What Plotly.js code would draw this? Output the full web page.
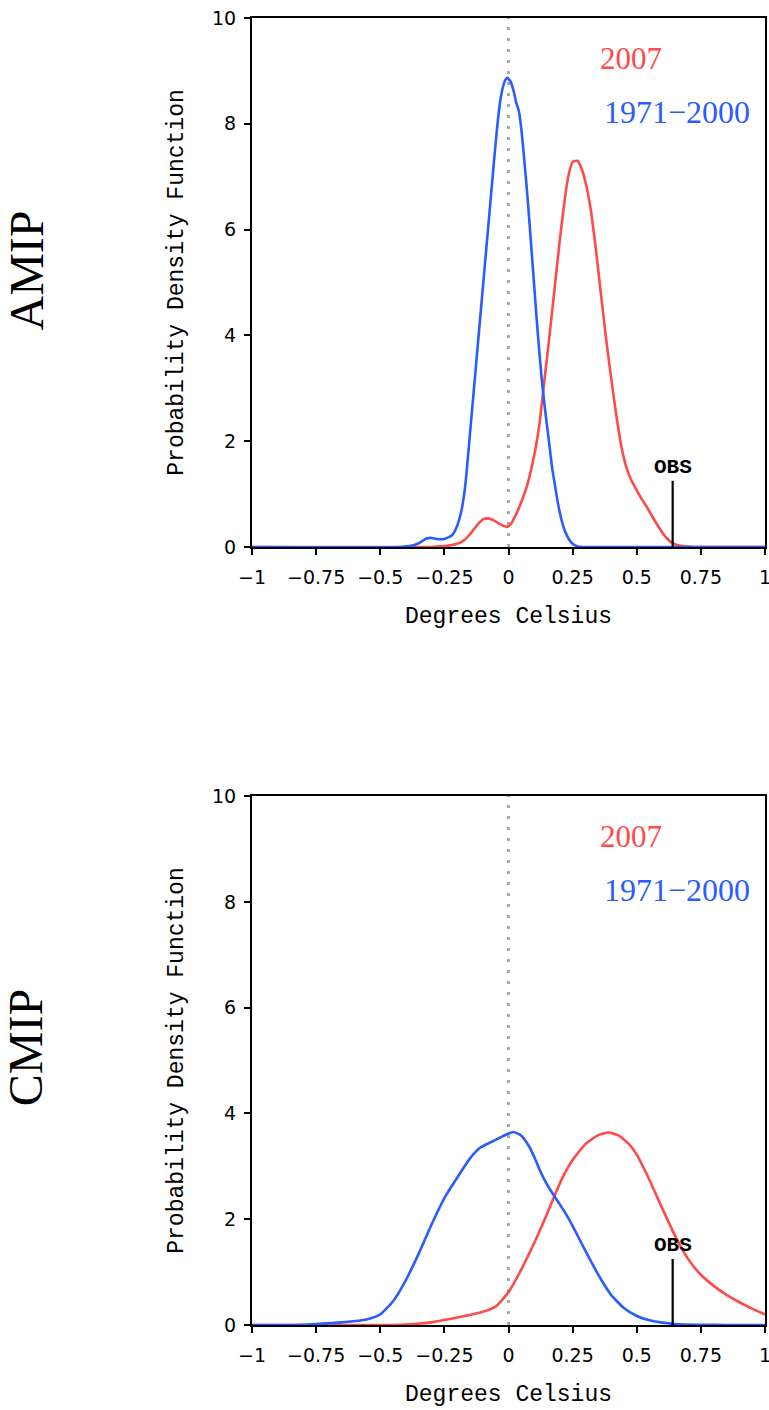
<!DOCTYPE html>
<html>
<head>
<meta charset="utf-8">
<script src="https://cdn.plot.ly/plotly-3.0.1.min.js"></script>
<style>
  html, body { margin: 0; padding: 0; background: #ffffff; }
  #chart { width: 769px; height: 1410px; }
</style>
</head>
<body>
<div id="chart"></div>
<script>
// ---------- data ----------
const panelLabels = ['AMIP', 'CMIP'];
const seriesNames = ['2007', '1971\u22122000'];
const obsValue = 0.64;
const obsMarkerHeight = 1.25;

// AMIP, 1971-2000
const amipBaseX = [-1, -0.42, -0.38, -0.35, -0.32, -0.3, -0.28, -0.25, -0.22, -0.2, -0.185, -0.17, -0.16, -0.14, -0.12, -0.1, -0.08, -0.06, -0.045, -0.03, -0.015, -0.005, 0.008, 0.02, 0.03, 0.04, 0.05, 0.06, 0.07, 0.08, 0.09, 0.1, 0.11, 0.12, 0.13, 0.14, 0.15, 0.16, 0.17, 0.18, 0.19, 0.2, 0.21, 0.22, 0.235, 0.25, 0.27, 0.29, 1];
const amipBaseY = [0, 0, 0.02, 0.07, 0.16, 0.17, 0.15, 0.15, 0.22, 0.4, 0.65, 1.1, 1.6, 2.7, 3.8, 4.9, 6.0, 7.1, 7.9, 8.5, 8.8, 8.87, 8.8, 8.62, 8.4, 8.25, 7.9, 7.4, 6.85, 6.25, 5.6, 4.95, 4.3, 3.7, 3.15, 2.7, 2.3, 1.9, 1.5, 1.2, 0.9, 0.65, 0.45, 0.3, 0.15, 0.06, 0.01, 0, 0];

// AMIP, 2007
const amip2007X = [-1, -0.3, -0.24, -0.2, -0.175, -0.15, -0.125, -0.1, -0.08, -0.06, -0.04, -0.02, -0.005, 0.01, 0.03, 0.05, 0.07, 0.09, 0.105, 0.12, 0.14, 0.16, 0.18, 0.2, 0.22, 0.235, 0.25, 0.27, 0.285, 0.3, 0.32, 0.34, 0.36, 0.38, 0.4, 0.42, 0.44, 0.46, 0.48, 0.5, 0.52, 0.54, 0.56, 0.58, 0.6, 0.62, 0.64, 0.67, 0.72, 1];
const amip2007Y = [0, 0, 0.02, 0.06, 0.12, 0.24, 0.4, 0.52, 0.54, 0.51, 0.45, 0.4, 0.38, 0.44, 0.62, 0.85, 1.12, 1.5, 1.85, 2.3, 3.15, 4.0, 4.9, 5.8, 6.6, 7.05, 7.28, 7.3, 7.15, 6.9, 6.4, 5.65, 4.8, 3.95, 3.2, 2.5, 1.9, 1.5, 1.25, 1.07, 0.9, 0.75, 0.58, 0.42, 0.27, 0.15, 0.07, 0.02, 0, 0];

// CMIP, 1971-2000
const cmipBaseX = [-1, -0.85, -0.75, -0.65, -0.55, -0.5, -0.45, -0.4, -0.35, -0.3, -0.25, -0.206, -0.15, -0.111, -0.05, 0, 0.02, 0.05, 0.08, 0.1, 0.12, 0.143, 0.17, 0.2, 0.23, 0.26, 0.3, 0.35, 0.4, 0.45, 0.5, 0.55, 0.6, 0.65, 0.75, 0.85, 1];
const cmipBaseY = [0, 0, 0.02, 0.05, 0.11, 0.2, 0.45, 0.85, 1.35, 1.9, 2.4, 2.74, 3.15, 3.35, 3.5, 3.62, 3.65, 3.58, 3.38, 3.18, 2.95, 2.72, 2.5, 2.28, 2.05, 1.78, 1.4, 0.95, 0.57, 0.32, 0.17, 0.09, 0.045, 0.02, 0.005, 0, 0];

// CMIP, 2007
const cmip2007X = [-1, -0.5, -0.4, -0.3, -0.2, -0.1, -0.05, 0, 0.05, 0.1, 0.15, 0.18, 0.21, 0.25, 0.3, 0.35, 0.39, 0.43, 0.47, 0.5, 0.546, 0.6, 0.65, 0.7, 0.75, 0.8, 0.85, 0.9, 0.95, 1];
const cmip2007Y = [0, 0, 0.01, 0.05, 0.14, 0.25, 0.35, 0.62, 1.05, 1.55, 2.1, 2.45, 2.78, 3.12, 3.42, 3.59, 3.64, 3.58, 3.42, 3.22, 2.78, 2.2, 1.68, 1.25, 0.95, 0.74, 0.57, 0.43, 0.31, 0.2];

// axes
const xTickVals = [-1, -0.75, -0.5, -0.25, 0, 0.25, 0.5, 0.75, 1];
const xTickText = ['\u22121', '\u22120.75', '\u22120.5', '\u22120.25', '0', '0.25', '0.5', '0.75', '1'];
const yTickVals = [0, 2, 4, 6, 8, 10];
const yTickText = ['0', '2', '4', '6', '8', '10'];
const xRange = [-1, 1];
const yRange = [0, 10];
const xTitle = 'Degrees Celsius';
const yTitle = 'Probability Density Function';

// ---------- styling ----------
const RED = '#ff4a4a';
const BLUE = '#2b5cff';
const tickFont = { family: 'DejaVu Sans, Liberation Sans, sans-serif', size: 19, color: '#000' };
const titleFont = { family: 'Liberation Mono, DejaVu Sans Mono, monospace', size: 23, color: '#000' };
const legendFont = 'Liberation Serif, DejaVu Serif, serif';

function curve(x, y, color, xa, ya, name) {
  return {
    x: x, y: y, xaxis: xa, yaxis: ya, name: name,
    type: 'scatter', mode: 'lines',
    line: { color: color, width: 2.6, shape: 'spline', smoothing: 0.5 },
    hoverinfo: 'skip', showlegend: false
  };
}

const data = [
  curve(amip2007X, amip2007Y, RED, 'x', 'y', seriesNames[0]),
  curve(amipBaseX, amipBaseY, BLUE, 'x', 'y', seriesNames[1]),
  curve(cmip2007X, cmip2007Y, RED, 'x2', 'y2', seriesNames[0]),
  curve(cmipBaseX, cmipBaseY, BLUE, 'x2', 'y2', seriesNames[1])
];

function xAxis(anchor) {
  return {
    anchor: anchor, range: xRange, tickmode: 'array', tickvals: xTickVals, ticktext: xTickText,
    ticks: 'outside', ticklen: 6, tickwidth: 2, tickcolor: '#000',
    ticklabelstandoff: 6, ticklabeloverflow: 'allow',
    showline: true, linewidth: 2, linecolor: '#000', mirror: true,
    showgrid: false, zeroline: false, tickfont: tickFont, layer: 'below traces',
    title: { text: xTitle, font: titleFont, standoff: 20 }
  };
}
function yAxis(anchor, domain) {
  return {
    anchor: anchor, domain: domain, range: yRange, tickmode: 'array', tickvals: yTickVals, ticktext: yTickText,
    ticks: 'outside', ticklen: 6, tickwidth: 2, tickcolor: '#000',
    ticklabelstandoff: 4, ticklabeloverflow: 'allow',
    showline: true, linewidth: 2, linecolor: '#000', mirror: true,
    showgrid: false, zeroline: false, tickfont: tickFont, layer: 'below traces',
    title: { text: yTitle, font: titleFont, standoff: 22 }
  };
}

const shapes = [];
const annotations = [];
[['x', 'y'], ['x2', 'y2']].forEach(function (ax) {
  // dotted zero line
  shapes.push({
    type: 'line', xref: ax[0], yref: ax[1], x0: 0, x1: 0, y0: yRange[0], y1: yRange[1],
    line: { color: '#aaaaaa', width: 3, dash: '3px,8px' }, layer: 'below'
  });
  // OBS marker
  shapes.push({
    type: 'line', xref: ax[0], yref: ax[1], x0: obsValue, x1: obsValue, y0: 0, y1: obsMarkerHeight,
    line: { color: '#000', width: 2.2 }, layer: 'above'
  });
  annotations.push({
    xref: ax[0], yref: ax[1], x: obsValue, y: 1.5, text: '<b>OBS</b>', showarrow: false,
    xanchor: 'center', yanchor: 'middle',
    font: { family: 'Liberation Mono, DejaVu Sans Mono, monospace', size: 21, color: '#000' }
  });
  annotations.push({
    xref: ax[0], yref: ax[1], x: 0.4795, y: 9.24, text: seriesNames[0], showarrow: false,
    xanchor: 'center', yanchor: 'middle', font: { family: legendFont, size: 31, color: RED }
  });
  annotations.push({
    xref: ax[0], yref: ax[1], x: 0.656, y: 8.23, text: seriesNames[1], showarrow: false,
    xanchor: 'center', yanchor: 'middle', font: { family: legendFont, size: 32, color: BLUE }
  });
});

annotations.push({
  xref: 'paper', yref: 'paper', x: -0.44, y: 0.807, text: panelLabels[0], showarrow: false,
  textangle: -90, xanchor: 'center', yanchor: 'middle',
  font: { family: legendFont, size: 48, color: '#000' }
});
annotations.push({
  xref: 'paper', yref: 'paper', x: -0.44, y: 0.212, text: panelLabels[1], showarrow: false,
  textangle: -90, xanchor: 'center', yanchor: 'middle',
  font: { family: legendFont, size: 48, color: '#000' }
});

const layout = {
  width: 769, height: 1410,
  margin: { l: 252, r: 4, t: 18, b: 85, pad: 0 },
  paper_bgcolor: '#ffffff', plot_bgcolor: '#ffffff',
  showlegend: false,
  xaxis: xAxis('y'),
  yaxis: yAxis('x', [0.5953, 1]),
  xaxis2: xAxis('y2'),
  yaxis2: yAxis('x2', [0, 0.4047]),
  shapes: shapes,
  annotations: annotations
};

Plotly.newPlot('chart', data, layout, { displayModeBar: false, staticPlot: true });
</script>
</body>
</html>
